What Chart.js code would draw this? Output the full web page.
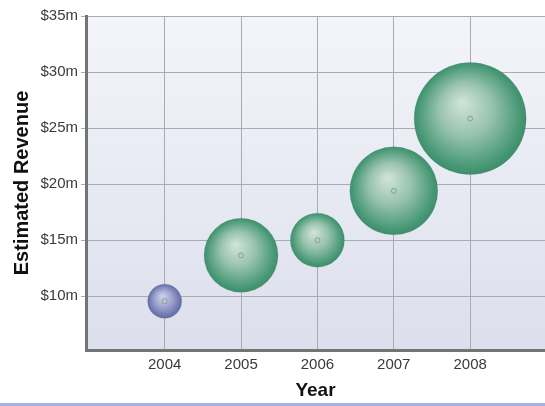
<!DOCTYPE html>
<html>
<head>
<meta charset="utf-8">
<title>Estimated Revenue by Year</title>
<script src="https://cdn.jsdelivr.net/npm/chart.js@4.4.1/dist/chart.umd.min.js"></script>
<style>
    html, body {
        margin: 0;
        padding: 0;
        background: #ffffff;
    }
    .wrap {
        width: 545px;
        height: 406px;
    }
</style>
</head>
<body>

<div class="wrap">
    <canvas id="revenueChart" width="545" height="406"></canvas>
</div>

<script>

/* ==========================================
        Data
========================================== */

const years = [2004, 2005, 2006, 2007, 2008];

const revenue = [9.55, 13.65, 15.0, 19.4, 25.85];

const bubbleSize = [17, 37, 27, 44, 56];

const yearTicks = [2004, 2005, 2006, 2007, 2008];

const revenueTicks = [10, 15, 20, 25, 30, 35];

/* ==========================================
        Helpers
========================================== */

const FONT = "'Liberation Sans', Arial, sans-serif";

function sphereFill(ctx, light, mid, dark, edge){

    const chart = ctx.chart;
    const raw = ctx.raw;

    if(!chart.chartArea || !raw){
        return dark;
    }

    const x = chart.scales.x.getPixelForValue(raw.x);
    const y = chart.scales.y.getPixelForValue(raw.y);
    const r = raw.r;

    const g = chart.ctx.createRadialGradient(
        x - r * 0.15, y - r * 0.3, 0,
        x, y, r * 1.05
    );

    g.addColorStop(0, light);
    g.addColorStop(0.45, mid);
    g.addColorStop(0.85, dark);
    g.addColorStop(1, edge);

    return g;

}

function bubbleColor(ctx){

    if(ctx.dataIndex === 0){
        return sphereFill(ctx, "#d0d4ea", "#a2a8d0", "#6e77b0", "#5e67a2");
    }

    return sphereFill(ctx, "#d2e5d9", "#98c3ac", "#4a9a78", "#3a8a67");

}

/* ==========================================
        Plot Background
========================================== */

const backdrop = {

    id: "backdrop",

    beforeDraw(chart){

        const {ctx, chartArea} = chart;

        ctx.save();

        const g = ctx.createLinearGradient(0, chartArea.top, 0, chartArea.bottom);
        g.addColorStop(0, "#f4f5fa");
        g.addColorStop(1, "#dcdfec");

        ctx.fillStyle = g;
        ctx.fillRect(
            chartArea.left,
            chartArea.top,
            chartArea.right - chartArea.left,
            chartArea.bottom - chartArea.top
        );

        ctx.restore();

    },

    afterDraw(chart){

        const ctx = chart.ctx;

        ctx.save();
        ctx.fillStyle = "#a3b3e2";
        ctx.fillRect(0, chart.height - 3, chart.width, 3);
        ctx.restore();

    }

};

/* ==========================================
        Bubble Chart
========================================== */

document.addEventListener("DOMContentLoaded", () => {

    const points = years.map((yr, i) => ({
        x: yr,
        y: revenue[i],
        r: bubbleSize[i]
    }));

    const centres = years.map((yr, i) => ({
        x: yr,
        y: revenue[i],
        r: 2.5
    }));

    new Chart(document.getElementById("revenueChart"), {

        type: "bubble",

        data: {

            datasets: [

                {
                    label: "Centre",
                    data: centres,
                    backgroundColor: "#b9c9d0",
                    borderColor: "rgba(90,120,120,0.5)",
                    borderWidth: 1,
                    order: 0
                },

                {
                    label: "Estimated Revenue",
                    data: points,
                    backgroundColor: bubbleColor,
                    borderColor: "rgba(60,130,100,0.2)",
                    borderWidth: 1,
                    order: 1
                }

            ]

        },

        options: {

            responsive: false,
            animation: false,

            layout: {
                autoPadding: false,
                padding: {top: 16, right: 0, bottom: 0, left: 0}
            },

            plugins: {
                legend: {display: false},
                tooltip: {enabled: false}
            },

            scales: {

                x: {
                    type: "linear",
                    min: 2002.97,
                    max: 2008.98,
                    afterBuildTicks: scale => {
                        scale.ticks = yearTicks.map(v => ({value: v}));
                    },
                    afterFit: scale => {
                        scale.height = 56;
                    },
                    ticks: {
                        color: "#3a3a3a",
                        padding: 6,
                        font: {family: FONT, size: 15},
                        callback: v => String(v)
                    },
                    grid: {
                        color: "#a9aab4",
                        lineWidth: 1,
                        drawTicks: false
                    },
                    border: {
                        color: "#747474",
                        width: 3
                    },
                    title: {
                        display: true,
                        text: "Year",
                        color: "#111",
                        padding: {top: 0, bottom: 4},
                        font: {family: FONT, size: 19, weight: "bold"}
                    }
                },

                y: {
                    min: 5.2,
                    max: 35,
                    afterBuildTicks: scale => {
                        scale.ticks = revenueTicks.map(v => ({value: v}));
                    },
                    afterFit: scale => {
                        scale.width = 86;
                    },
                    ticks: {
                        color: "#3a3a3a",
                        padding: 3,
                        font: {family: FONT, size: 15},
                        callback: v => "$" + v + "m"
                    },
                    grid: {
                        color: "#a9aab4",
                        lineWidth: 1,
                        tickLength: 5
                    },
                    border: {
                        color: "#747474",
                        width: 3
                    },
                    title: {
                        display: true,
                        text: "Estimated Revenue",
                        color: "#111",
                        padding: {top: 10, bottom: 0},
                        font: {family: FONT, size: 20, weight: "bold"}
                    }
                }

            }

        },

        plugins: [backdrop]

    });

});

</script>

</body>
</html>
